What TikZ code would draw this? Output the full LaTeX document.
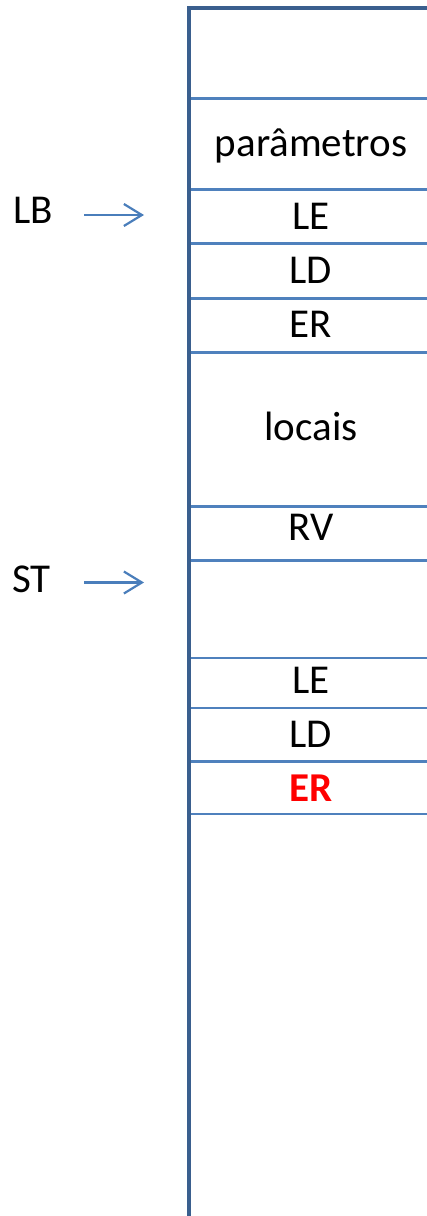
\documentclass[tikz,border=0pt]{standalone}
\usepackage{fontspec}
\setmainfont{Carlito}
\usetikzlibrary{arrows.meta}
\definecolor{frameblue}{HTML}{3A5F8E}
\definecolor{lineblue}{HTML}{4F81BD}
\definecolor{arrblue}{HTML}{4A7EBB}
\tikzset{
  cell/.style={anchor=base, inner sep=0pt, font=\fontsize{41}{41}\selectfont},
  side/.style={anchor=base west, inner sep=0pt, font=\fontsize{41}{41}\selectfont},
  sep/.style={draw=lineblue, line width=2.2pt},
  ptr/.style={draw=arrblue, line width=2.2pt, -{Straight Barb[length=18pt,width=22pt,line width=2.2pt]}},
}
\begin{document}
\begin{tikzpicture}[x=1pt,y=-1pt]
\useasboundingbox (0,0) rectangle (427,1216);
\begin{scope}
\clip (0,0) rectangle (427,1216);
% separators
\foreach \yy in {98.5,189.5,243.5,298.5,352.5,506.5,560.5,658,708,761.5,814}{
  \draw[sep] (189,\yy) -- (440,\yy);
}
% frame
\draw[draw=frameblue, line width=4.8pt] (189,8) rectangle (460,1218);
\end{scope}
% cell texts
\node[cell] (par) at (311,156.5) {parâmetros};
\node[cell] (le1) at (311,229.5) {LE};
\node[cell] (ld1) at (311,283) {LD};
\node[cell] (er1) at (311,337) {ER};
\node[cell] (loc) at (311,440) {locais};
\node[cell] (rv)  at (311,540.5) {RV};
\node[cell] (le2) at (311,693.5) {LE};
\node[cell] (ld2) at (311,747) {LD};
\node[cell, text=red, font=\fontsize{41}{41}\selectfont\bfseries] (er2) at (311,801.5) {ER};
% pointers
\node[side] (lb) at (13,223) {LB};
\node[side] (st) at (12,592) {ST};
\coordinate (lbs) at (84,215);
\coordinate (lbt) at (144,215);
\coordinate (sts) at (84,582.5);
\coordinate (stt) at (144,582.5);
\draw[ptr] (lbs) -- (lbt);
\draw[ptr] (sts) -- (stt);
\end{tikzpicture}
\end{document}
